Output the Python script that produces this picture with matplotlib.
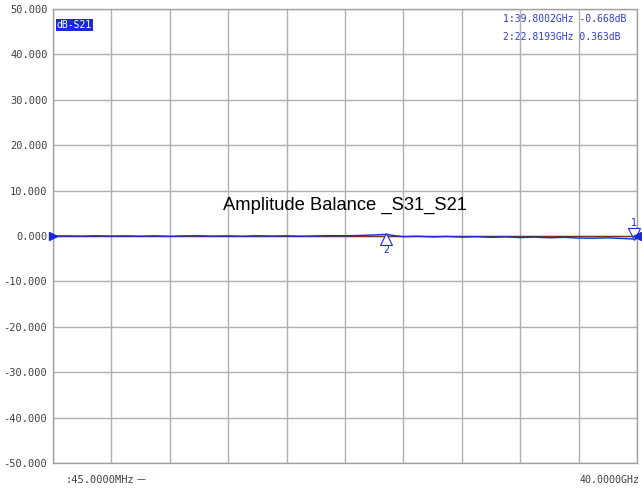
import matplotlib
matplotlib.use("Agg")
import matplotlib.pyplot as plt
import numpy as np

# Data (frequency in GHz, value in dB)
freq_ghz = [0.045, 1.0, 2.0, 3.0, 4.0, 5.0, 6.0, 7.0, 8.0, 9.0, 10.0, 11.0, 12.0,
            13.0, 14.0, 15.0, 16.0, 17.0, 18.0, 19.0, 20.0, 21.0, 22.0, 22.8193,
            23.5, 24.0, 25.0, 26.0, 27.0, 28.0, 29.0, 30.0, 31.0, 32.0, 33.0,
            34.0, 35.0, 36.0, 37.0, 38.0, 39.0, 39.8002, 40.0]
s21_balance = [0.0, 0.02, -0.03, 0.05, -0.02, 0.03, -0.05, 0.04, -0.08, 0.02, 0.06,
               -0.04, 0.03, -0.06, 0.05, -0.02, 0.04, -0.05, 0.02, 0.08, 0.05, 0.12,
               0.22, 0.363, 0.05, -0.15, -0.05, -0.2, -0.1, -0.25, -0.15, -0.3, -0.2,
               -0.35, -0.25, -0.4, -0.3, -0.45, -0.5, -0.4, -0.55, -0.668, -0.6]
ref_freq = [0.045, 40.0]
ref_vals = [0.0, 0.0]

markers = [(39.8002, -0.668, "1"), (22.8193, 0.363, "2")]
yticks = [50, 40, 30, 20, 10, 0, -10, -20, -30, -40, -50]
xgrid = np.linspace(0.045, 40.0, 11)

fig = plt.figure(figsize=(6.42, 4.93), dpi=100)
ax = fig.add_axes([53/642, 1-463/493, (637-53)/642, (463-9)/493])

ax.set_xlim(0.045, 40.0)
ax.set_ylim(-50, 50)
ax.set_xticks(xgrid)
ax.set_yticks(yticks)
ax.grid(True, color="#b0b0b0", linewidth=1.0)
ax.tick_params(axis="both", length=0)
ax.set_xticklabels([])
ax.set_yticklabels(["%.3f" % v if v != 0 else "0.000" for v in yticks],
                   fontfamily="DejaVu Sans Mono", fontsize=7.5, color="#404040")
ax.tick_params(axis="y", pad=4)
for s in ax.spines.values():
    s.set_color("#a0a0a0")
    s.set_linewidth(1.0)

ax.plot(ref_freq, ref_vals, color="#7a3020", linewidth=1.0, zorder=3)
ax.plot(freq_ghz, s21_balance, color="#1a2ad8", linewidth=1.0, zorder=4)

# markers
mx, my, ml = markers[0]
ax.plot([mx], [my + 1.0], marker="v", markersize=8, markerfacecolor="white",
        markeredgecolor="#1a2ad8", markeredgewidth=0.8, zorder=5, clip_on=False)
ax.text(mx, my + 2.4, ml, color="#1a2ad8", fontsize=7, ha="center", va="bottom",
        fontfamily="DejaVu Sans Mono")
mx, my, ml = markers[1]
ax.plot([mx], [my - 1.0], marker="^", markersize=8, markerfacecolor="white",
        markeredgecolor="#1a2ad8", markeredgewidth=0.8, zorder=5)
ax.text(mx, my - 2.3, ml, color="#1a2ad8", fontsize=7, ha="center", va="top",
        fontfamily="DejaVu Sans Mono")

# reference arrows
ax.plot([0.045], [0], marker=">", markersize=6, color="#1a2ad8", clip_on=False, zorder=6)
ax.plot([40.0], [0], marker="<", markersize=6, color="#1a2ad8", clip_on=False, zorder=6)

ax.text(0.5, 0.567, "Amplitude Balance _S31_S21", transform=ax.transAxes,
        ha="center", va="center", fontsize=13.2, fontfamily="Liberation Sans",
        color="black", zorder=7)

ax.text(0.006, 0.965, "dB-S21", transform=ax.transAxes, ha="left", va="center",
        fontsize=7, fontfamily="DejaVu Sans Mono", color="white",
        bbox=dict(boxstyle="square,pad=0.1", facecolor="#1a2ad8", edgecolor="none"))

ax.text(0.770, 0.958, "1:39.8002GHz -0.668dB\n2:22.8193GHz 0.363dB",
        transform=ax.transAxes, ha="left", va="center", fontsize=7,
        fontfamily="DejaVu Sans Mono", color="#3040d0", linespacing=1.9,
        multialignment="left")

fig.text(65/642, 1-480/493, ":45.0000MHz", fontsize=7.5, fontfamily="DejaVu Sans Mono",
         color="#404040", ha="left", va="center")
fig.text(137/642, 1-480/493, "\u2014", fontsize=6.5, color="#1a2ad8", ha="left", va="center")
fig.text(640/642, 1-480/493, "40.0000GHz", fontsize=7.2, fontfamily="DejaVu Sans Mono",
         color="#404040", ha="right", va="center")

fig.savefig("out.png", dpi=100)
